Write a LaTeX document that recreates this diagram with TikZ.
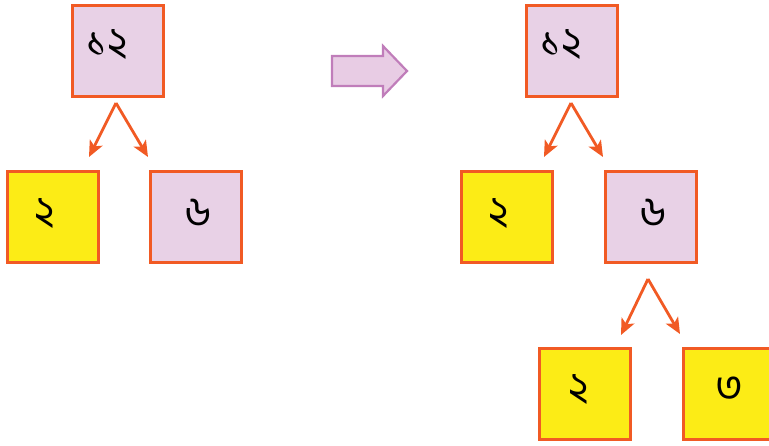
\documentclass[tikz,border=0pt]{standalone}
\usepackage{fontspec}
\newfontfamily\bn[Script=Bengali]{Hind Siliguri}
\usetikzlibrary{arrows.meta,calc}
\definecolor{lilac}{HTML}{E8D1E6}
\definecolor{edgeor}{HTML}{F15A24}
\definecolor{yel}{HTML}{FCEC16}
\definecolor{arrfill}{HTML}{E8CCE4}
\definecolor{arrline}{HTML}{C07DBA}
\tikzset{
  box/.style={draw=edgeor, line width=3pt, minimum width=91pt, minimum height=91pt, inner sep=0pt, anchor=center},
  lbox/.style={box, fill=lilac},
  ybox/.style={box, fill=yel},
  num/.style={font=\bn\fontsize{42}{42}\selectfont, text=black, inner sep=0pt},
  conn/.style={draw=edgeor, line width=2.8pt, -{Stealth[length=16pt,width=14pt,inset=4pt]}}
}
\begin{document}
\begin{tikzpicture}[x=1pt,y=-1pt]
\useasboundingbox (0,0) rectangle (769,445);
\begin{scope}
\clip (0,0) rectangle (769,445);
% left tree
\node[lbox] (L) at (118,51) {};
\node[num] (Lt) at (107,45) {১২};
\node[ybox] (La) at (53,217) {};
\node[num] (Lat) at (45,214) {২};
\node[lbox] (Lb) at (196,217) {};
\node[num] (Lbt) at (198,213) {৬};
\coordinate (Lp) at (116,103);
\coordinate (Lae) at (89,157);
\coordinate (Lbe) at (148,157);
\draw[conn] (Lp) -- (Lae);
\draw[conn] (Lp) -- (Lbe);
% big arrow
\draw[draw=arrline, fill=arrfill, line width=2.2pt, line join=miter]
  (332,56) -- (383,56) -- (383,46) -- (407,71) -- (383,96) -- (383,86) -- (332,86) -- cycle;
% right tree
\node[lbox] (R) at (572,51) {};
\node[num] (Rt) at (561,45) {১২};
\node[ybox] (Ra) at (507,217) {};
\node[num] (Rat) at (499,214) {২};
\node[lbox] (Rb) at (651,217) {};
\node[num] (Rbt) at (653,213) {৬};
\coordinate (Rp) at (571,103);
\coordinate (Rae) at (544,157);
\coordinate (Rbe) at (603,157);
\draw[conn] (Rp) -- (Rae);
\draw[conn] (Rp) -- (Rbe);
\node[ybox] (Rc) at (585,394) {};
\node[num] (Rct) at (579,390) {২};
\node[ybox] (Rd) at (729,394) {};
\node[num] (Rdt) at (729,389) {৩};
\coordinate (Rq) at (648,279);
\coordinate (Rce) at (621,335);
\coordinate (Rde) at (680,334);
\draw[conn] (Rq) -- (Rce);
\draw[conn] (Rq) -- (Rde);
\end{scope}
\end{tikzpicture}
\end{document}
